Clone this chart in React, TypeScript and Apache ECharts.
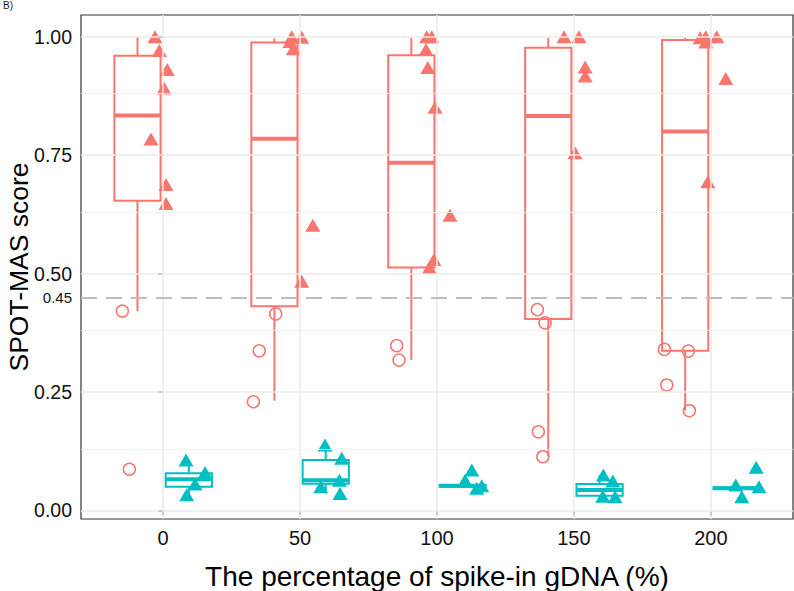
import React, { useEffect, useRef } from 'react';
import * as echarts from 'echarts';

const categories = ['0', '50', '100', '150', '200'];
const yMajorTicks = [0, 0.25, 0.5, 0.75, 1];
const yMinorTicks = [0.125, 0.375, 0.625, 0.875];
const threshold = 0.45;

// Box statistics per category: [min, Q1, median, Q3, max]
const cancerBoxes = [
  [0.421, 0.654, 0.834, 0.960, 1.000],
  [0.232, 0.431, 0.785, 0.988, 0.997],
  [0.318, 0.513, 0.734, 0.961, 0.998],
  [0.114, 0.404, 0.833, 0.977, 0.998],
  [0.211, 0.337, 0.800, 0.993, 0.998],
];
const healthyBoxes = [
  [0.033, 0.050, 0.066, 0.0785, 0.1065],
  [0.036, 0.0565, 0.064, 0.1065, 0.138],
  [0.047, 0.050, 0.052, 0.054, 0.054],
  [0.029, 0.031, 0.043, 0.056, 0.075],
  [0.045, 0.0455, 0.047, 0.0485, 0.049],
];

// Points: [category index, jitter, score]
const cancerTriangles = [
  [0, -0.060, 1.000], [0, -0.028, 0.971], [0, 0.030, 0.931], [0, 0.006, 0.892], [0, -0.089, 0.784], [0, 0.021, 0.688], [0, 0.021, 0.648],
  [1, -0.061, 1.000], [1, 0.012, 0.999], [1, -0.073, 0.990], [1, -0.049, 0.975], [1, 0.093, 0.602], [1, 0.012, 0.484],
  [2, -0.075, 1.000], [2, -0.038, 1.000], [2, -0.080, 0.973], [2, -0.067, 0.935], [2, -0.014, 0.851], [2, 0.095, 0.623], [2, -0.022, 0.530], [2, -0.056, 0.513],
  [3, -0.072, 1.000], [3, 0.037, 1.000], [3, 0.082, 0.936], [3, 0.082, 0.917], [3, 0.008, 0.755],
  [4, -0.078, 0.998], [4, -0.037, 1.000], [4, 0.043, 1.000], [4, -0.037, 0.989], [4, 0.109, 0.912], [4, -0.022, 0.694],
];
const cancerCircles = [
  [0, -0.298, 0.421], [0, -0.247, 0.087],
  [1, -0.178, 0.415], [1, -0.298, 0.337], [1, -0.341, 0.2295],
  [2, -0.294, 0.348], [2, -0.277, 0.3175],
  [3, -0.267, 0.424], [3, -0.211, 0.396], [3, -0.260, 0.166], [3, -0.227, 0.1135],
  [4, -0.339, 0.340], [4, -0.164, 0.3365], [4, -0.322, 0.265], [4, -0.157, 0.2106],
];
const healthyTriangles = [
  [0, 0.167, 0.1065], [0, 0.306, 0.080], [0, 0.233, 0.056], [0, 0.172, 0.033],
  [1, 0.182, 0.138], [1, 0.304, 0.110], [1, 0.287, 0.064], [1, 0.151, 0.050], [1, 0.292, 0.036],
  [2, 0.254, 0.0855], [2, 0.205, 0.064], [2, 0.327, 0.052], [2, 0.290, 0.047],
  [3, 0.215, 0.075], [3, 0.284, 0.062], [3, 0.211, 0.030], [3, 0.301, 0.029],
  [4, 0.331, 0.091], [4, 0.352, 0.050], [4, 0.182, 0.054], [4, 0.226, 0.029],
];

const RED = '#F8766D';
const TEAL = '#00BFC4';
const FONT = '"Liberation Sans", Arial, Helvetica, sans-serif';
const DODGE = 0.1875;
const BOX_W = 0.3375;

export default function App() {
  const ref = useRef<HTMLDivElement>(null);
  useEffect(() => {
    document.body.style.margin = '0';
    const chart = echarts.init(ref.current!, null, { renderer: 'svg' });

    const boxData: any[] = [];
    cancerBoxes.forEach((b, i) => boxData.push([i - DODGE, ...b, 0]));
    healthyBoxes.forEach((b, i) => boxData.push([i + DODGE, ...b, 1]));

    const toXY = (arr: number[][]) => arr.map((p) => [p[0] + p[1], p[2]]);

    const gridLines = [
      ...yMajorTicks.map((v) => ({ yAxis: v, lineStyle: { color: '#EBEBEB', width: 1.5, type: 'solid' } })),
      ...yMinorTicks.map((v) => ({ yAxis: v, lineStyle: { color: '#EFEFEF', width: 0.9, type: 'solid' } })),
      ...categories.map((_, i) => ({ xAxis: i, lineStyle: { color: '#EBEBEB', width: 1.5, type: 'solid' } })),
    ];

    const option: any = {
      animation: false,
      backgroundColor: '#ffffff',
      textStyle: { fontFamily: FONT },
      graphic: [
        { type: 'text', left: 3, top: 0, style: { text: 'B)', fontSize: 10, fill: '#222', fontFamily: FONT } },
      ],
      grid: {
        left: 81, right: 1, top: 15, bottom: 72,
        show: true, borderColor: '#333333', borderWidth: 1.2, backgroundColor: '#ffffff',
        containLabel: false, outerBoundsMode: 'none',
      },
      xAxis: {
        type: 'value', min: -0.6, max: 4.6,
        name: 'The percentage of spike-in gDNA (%)', nameLocation: 'middle', nameGap: 43,
        nameTextStyle: { fontSize: 28, color: '#000', fontFamily: FONT },
        axisLine: { show: false },
        splitLine: { show: false },
        axisTick: { show: true, customValues: [0, 1, 2, 3, 4], length: 5, lineStyle: { color: '#333', width: 1.5 } },
        axisLabel: {
          customValues: [0, 1, 2, 3, 4], margin: 9, fontSize: 20, color: '#111', fontFamily: FONT,
          formatter: (v: number) => categories[Math.round(v)] ?? '',
        },
      },
      yAxis: {
        type: 'value', min: -0.018, max: 1.046,
        name: 'SPOT-MAS score', nameLocation: 'middle', nameGap: 49, nameMoveOverlap: false,
        nameTextStyle: { fontSize: 26.5, color: '#000', fontFamily: FONT },
        axisLine: { show: false },
        splitLine: { show: false },
        axisTick: { show: true, customValues: [...yMajorTicks, threshold], length: 5, lineStyle: { color: '#333', width: 1.5 } },
        axisLabel: {
          customValues: [...yMajorTicks, threshold], margin: 9, fontSize: 19.5, color: '#111', fontFamily: FONT,
          formatter: (v: number) => (Math.abs(v - threshold) < 1e-9 ? '{s|0.45}' : v.toFixed(2)),
          rich: { s: { fontSize: 15, color: '#111', fontFamily: FONT } },
        },
      },
      series: [
        {
          type: 'scatter', name: 'grid', data: [], z: 1, silent: true,
          markLine: { silent: true, symbol: ['none', 'none'], label: { show: false }, animation: false, data: gridLines },
        },
        {
          type: 'custom', name: 'boxes', z: 2,
          encode: { x: 0, y: [1, 2, 3, 4, 5] },
          data: boxData,
          renderItem: (params: any, api: any) => {
            const x = api.value(0);
            const color = api.value(6) === 0 ? RED : TEAL;
            const pMin = api.coord([x, api.value(1)]);
            const pQ1 = api.coord([x, api.value(2)]);
            const pMed = api.coord([x, api.value(3)]);
            const pQ3 = api.coord([x, api.value(4)]);
            const pMax = api.coord([x, api.value(5)]);
            const half = api.size([BOX_W, 0])[0] / 2;
            const cx = pMed[0];
            return {
              type: 'group',
              children: [
                { type: 'line', shape: { x1: cx, y1: pMax[1], x2: cx, y2: pQ3[1] }, style: { stroke: color, lineWidth: 2 } },
                { type: 'line', shape: { x1: cx, y1: pQ1[1], x2: cx, y2: pMin[1] }, style: { stroke: color, lineWidth: 2 } },
                { type: 'rect', shape: { x: cx - half, y: pQ3[1], width: half * 2, height: pQ1[1] - pQ3[1] }, style: { fill: '#ffffff', stroke: color, lineWidth: 2 } },
                { type: 'line', shape: { x1: cx - half, y1: pMed[1], x2: cx + half, y2: pMed[1] }, style: { stroke: color, lineWidth: 4 } },
              ],
            };
          },
        },
        {
          type: 'scatter', name: 'threshold', data: [], z: 3, silent: true,
          markLine: {
            silent: true, symbol: ['none', 'none'], label: { show: false }, animation: false,
            data: [{ yAxis: threshold, lineStyle: { color: '#BDBDBD', width: 2, type: [16, 9] } }],
          },
        },
        {
          type: 'scatter', name: 'cancer circles', z: 4, data: toXY(cancerCircles),
          symbol: 'circle', symbolSize: 12,
          itemStyle: { color: 'rgba(255,255,255,0)', borderColor: RED, borderWidth: 1.5, opacity: 1 },
        },
        {
          type: 'scatter', name: 'cancer triangles', z: 4, data: toXY(cancerTriangles),
          symbol: 'triangle', symbolSize: [15, 13],
          itemStyle: { color: RED, opacity: 1 },
        },
        {
          type: 'scatter', name: 'healthy triangles', z: 4, data: toXY(healthyTriangles),
          symbol: 'triangle', symbolSize: [15, 13],
          itemStyle: { color: TEAL, opacity: 1 },
        },
      ],
    };
    chart.setOption(option);
    return () => chart.dispose();
  }, []);
  return <div ref={ref} style={{ width: 794, height: 591 }} />;
}
